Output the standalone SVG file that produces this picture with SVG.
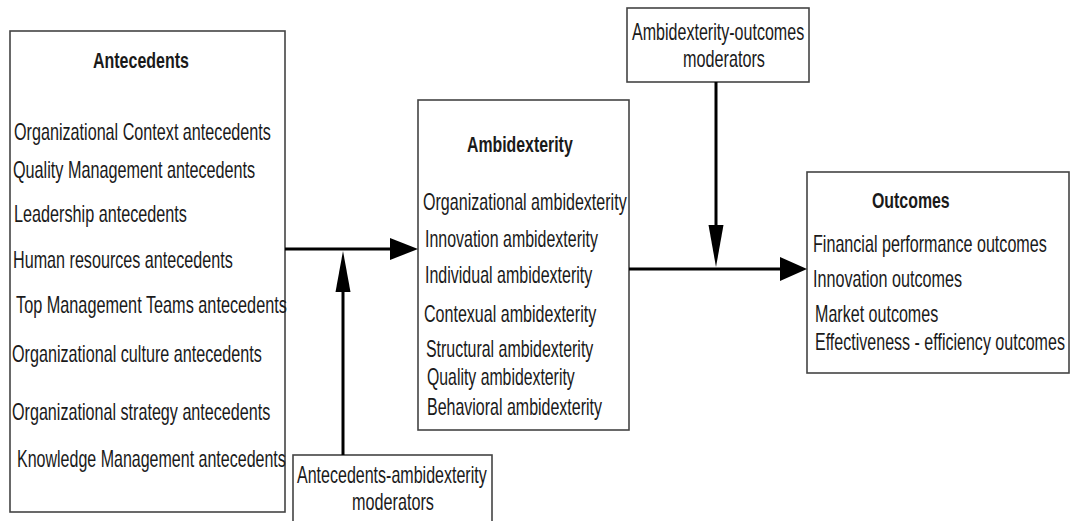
<svg xmlns="http://www.w3.org/2000/svg" width="1070" height="521" viewBox="0 0 1070 521">
<style>
.box{fill:#fff;stroke:#444;stroke-width:1.6}
.t{font-family:"Liberation Sans",Arial,sans-serif;font-size:23px;fill:#1a1a1a}
.b{font-weight:bold;font-size:22px}
.ln{stroke:#000;stroke-width:3;fill:none}
.ah{fill:#000}
</style>
<rect width="1070" height="521" fill="#fff"/>
<g id="antecedents">
<rect class="box" x="10" y="31" width="275" height="481"/>
<text class="t b" transform="translate(93,68) scale(0.7,1)" textLength="137" lengthAdjust="spacingAndGlyphs">Antecedents</text>
<text class="t" transform="translate(14,140) scale(0.7,1)" textLength="367" lengthAdjust="spacingAndGlyphs">Organizational Context antecedents</text>
<text class="t" transform="translate(13,178) scale(0.7,1)" textLength="346" lengthAdjust="spacingAndGlyphs">Quality Management antecedents</text>
<text class="t" transform="translate(14,222) scale(0.7,1)" textLength="247" lengthAdjust="spacingAndGlyphs">Leadership antecedents</text>
<text class="t" transform="translate(13,268) scale(0.7,1)" textLength="314" lengthAdjust="spacingAndGlyphs">Human resources antecedents</text>
<text class="t" transform="translate(16,313) scale(0.7,1)" textLength="387" lengthAdjust="spacingAndGlyphs">Top Management Teams antecedents</text>
<text class="t" transform="translate(12,362) scale(0.7,1)" textLength="357" lengthAdjust="spacingAndGlyphs">Organizational culture antecedents</text>
<text class="t" transform="translate(12,420) scale(0.7,1)" textLength="369" lengthAdjust="spacingAndGlyphs">Organizational strategy antecedents</text>
<text class="t" transform="translate(17,467) scale(0.7,1)" textLength="384" lengthAdjust="spacingAndGlyphs">Knowledge Management antecedents</text>
</g>
<g id="ambidexterity">
<rect class="box" x="418" y="100" width="211" height="330"/>
<text class="t b" transform="translate(467,152) scale(0.7,1)" textLength="151" lengthAdjust="spacingAndGlyphs">Ambidexterity</text>
<text class="t" transform="translate(423,210) scale(0.7,1)" textLength="291" lengthAdjust="spacingAndGlyphs">Organizational ambidexterity</text>
<text class="t" transform="translate(425,247) scale(0.7,1)" textLength="247" lengthAdjust="spacingAndGlyphs">Innovation ambidexterity</text>
<text class="t" transform="translate(425,283) scale(0.7,1)" textLength="239" lengthAdjust="spacingAndGlyphs">Individual ambidexterity</text>
<text class="t" transform="translate(424,322) scale(0.7,1)" textLength="246" lengthAdjust="spacingAndGlyphs">Contexual ambidexterity</text>
<text class="t" transform="translate(426,357) scale(0.7,1)" textLength="239" lengthAdjust="spacingAndGlyphs">Structural ambidexterity</text>
<text class="t" transform="translate(427,385) scale(0.7,1)" textLength="211" lengthAdjust="spacingAndGlyphs">Quality ambidexterity</text>
<text class="t" transform="translate(427,415) scale(0.7,1)" textLength="250" lengthAdjust="spacingAndGlyphs">Behavioral ambidexterity</text>
</g>
<g id="outcomes">
<rect class="box" x="807" y="172" width="262" height="201"/>
<text class="t b" transform="translate(872,208) scale(0.7,1)" textLength="111" lengthAdjust="spacingAndGlyphs">Outcomes</text>
<text class="t" transform="translate(813,252) scale(0.7,1)" textLength="334" lengthAdjust="spacingAndGlyphs">Financial performance outcomes</text>
<text class="t" transform="translate(813,287) scale(0.7,1)" textLength="213" lengthAdjust="spacingAndGlyphs">Innovation outcomes</text>
<text class="t" transform="translate(815,322) scale(0.7,1)" textLength="176" lengthAdjust="spacingAndGlyphs">Market outcomes</text>
<text class="t" transform="translate(815,350) scale(0.7,1)" textLength="357" lengthAdjust="spacingAndGlyphs">Effectiveness - efficiency outcomes</text>
</g>
<g id="ao-moderators">
<rect class="box" x="627" y="8" width="182" height="74"/>
<text class="t" transform="translate(632,40) scale(0.7,1)" textLength="246" lengthAdjust="spacingAndGlyphs">Ambidexterity-outcomes</text>
<text class="t" transform="translate(683,67) scale(0.7,1)" textLength="117" lengthAdjust="spacingAndGlyphs">moderators</text>
</g>
<g id="aa-moderators">
<rect class="box" x="293" y="455" width="199" height="80"/>
<text class="t" transform="translate(297,483) scale(0.7,1)" textLength="271" lengthAdjust="spacingAndGlyphs">Antecedents-ambidexterity</text>
<text class="t" transform="translate(352,510) scale(0.7,1)" textLength="117" lengthAdjust="spacingAndGlyphs">moderators</text>
</g>
<g id="connectors">
<line class="ln" x1="285" y1="249" x2="392" y2="249"/>
<polygon class="ah" points="390,238 418,249 390,260"/>
<line class="ln" x1="343" y1="455" x2="343" y2="290"/>
<polygon class="ah" points="335.5,292 343,251 350.5,292"/>
<line class="ln" x1="629" y1="269" x2="782" y2="269"/>
<polygon class="ah" points="780,257 807,269 780,281"/>
<line class="ln" x1="716" y1="82" x2="716" y2="227"/>
<polygon class="ah" points="708.5,225 716,267 723.5,225"/>
</g>
</svg>
